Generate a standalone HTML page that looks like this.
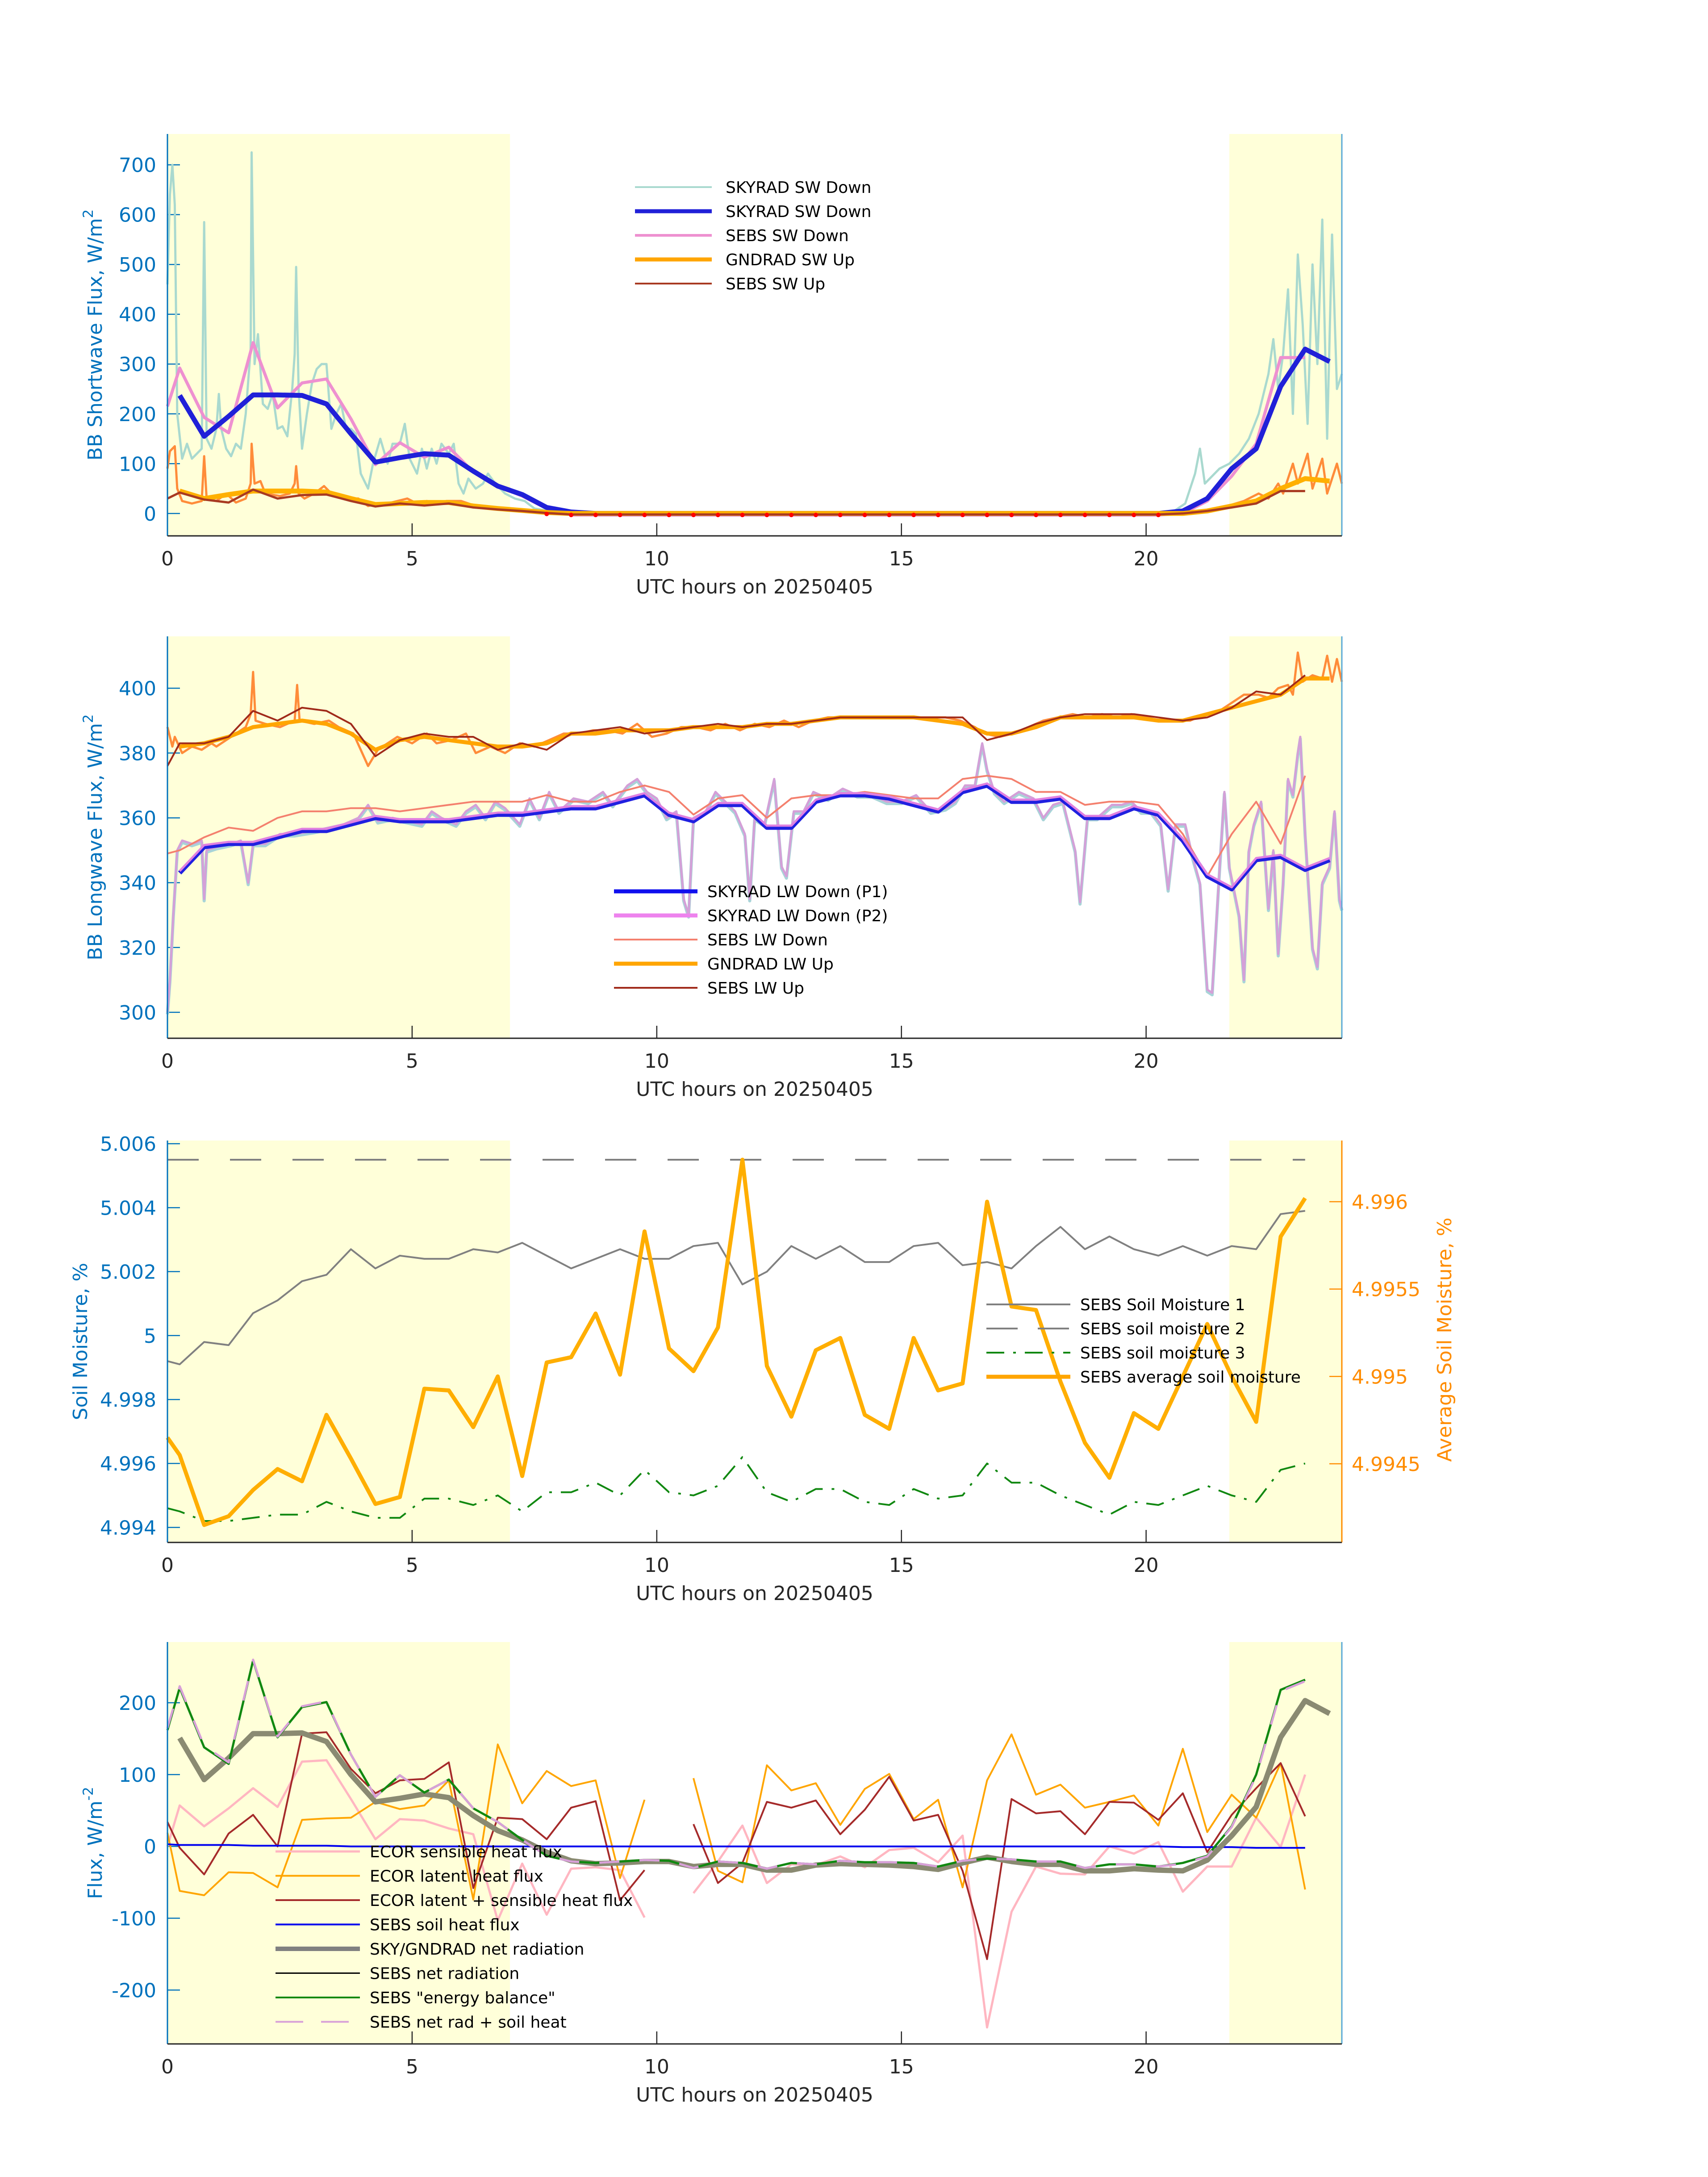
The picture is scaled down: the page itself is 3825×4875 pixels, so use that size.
<!DOCTYPE html>
<html>
<head>
<meta charset="utf-8">
<style>
  html, body { margin: 0; padding: 0; background: #ffffff; }
  svg { display: block; }
  text { font-family: "DejaVu Sans", "Liberation Sans", sans-serif; }
</style>
</head>
<body>
<svg id="fig" xmlns="http://www.w3.org/2000/svg" width="3825" height="4875" viewBox="0 0 3825 4875"></svg>
<script>
// ---------- shared time axes ----------
const tA = [0,0.25,0.75,1.25,1.75,2.25,2.75,3.25,3.75,4.25,4.75,5.25,5.75,6.25,6.75,7.25,7.75,8.25,8.75,9.25,9.75,10.25,10.75,11.25,11.75,12.25,12.75,13.25,13.75,14.25,14.75,15.25,15.75,16.25,16.75,17.25,17.75,18.25,18.75,19.25,19.75,20.25,20.75,21.25,21.75,22.25,22.75,23.25];
const tB = [0.25,0.75,1.25,1.75,2.25,2.75,3.25,3.75,4.25,4.75,5.25,5.75,6.25,6.75,7.25,7.75,8.25,8.75,9.25,9.75,10.25,10.75,11.25,11.75,12.25,12.75,13.25,13.75,14.25,14.75,15.25,15.75,16.25,16.75,17.25,17.75,18.25,18.75,19.25,19.75,20.25,20.75,21.25,21.75,22.25,22.75,23.25,23.75];
const xTicks = [0,5,10,15,20];
const xTickLabels = ["0","5","10","15","20"];
const shadeSpans = [[0,7],[21.7,24]];

// ---------- panel 1: shortwave ----------
const swNoisyT = [0,0.05,0.1,0.15,0.2,0.3,0.4,0.5,0.6,0.7,0.75,0.8,0.9,1.0,1.05,1.1,1.2,1.3,1.4,1.5,1.6,1.7,1.72,1.78,1.85,1.95,2.05,2.15,2.25,2.35,2.45,2.55,2.6,2.63,2.68,2.75,2.85,2.95,3.05,3.15,3.25,3.35,3.45,3.55,3.65,3.75,3.85,3.95,4.1,4.2,4.35,4.5,4.6,4.75,4.85,4.95,5.1,5.2,5.3,5.4,5.5,5.6,5.75,5.85,5.95,6.05,6.15,6.3,6.45,6.55,6.7,6.9,7.1,7.3,7.5,7.8,8.2,20.5,20.8,21.0,21.1,21.2,21.5,21.7,21.9,22.1,22.3,22.5,22.6,22.7,22.8,22.9,23.0,23.1,23.2,23.3,23.4,23.5,23.6,23.7,23.8,23.9,24];
const swNoisyV = [460,640,700,620,200,110,140,110,120,130,585,150,130,170,240,170,130,115,140,130,200,330,725,300,360,220,210,240,170,175,155,250,320,495,250,130,200,260,290,300,300,170,200,220,170,170,160,80,50,100,150,100,140,140,180,110,80,130,90,130,100,140,120,140,60,40,70,50,60,80,60,40,30,25,10,5,0,0,20,80,130,60,90,100,120,150,200,280,350,250,320,450,200,520,380,180,500,300,590,150,560,250,280];
const swUpNoisyT = [0,0.05,0.15,0.2,0.3,0.5,0.7,0.75,0.8,1.0,1.2,1.4,1.6,1.7,1.72,1.78,1.9,2.0,2.3,2.5,2.6,2.63,2.68,2.8,3.0,3.2,3.4,3.7,3.9,4.1,4.3,4.5,4.7,4.9,5.1,5.3,5.5,5.7,6.0,6.3,6.6,7.0,7.5,8.0,20.5,21.0,21.5,22.0,22.3,22.5,22.7,22.8,23.0,23.1,23.3,23.4,23.6,23.7,23.9,24];
const swUpNoisyV = [90,125,135,50,25,20,25,115,30,25,40,22,30,60,140,60,65,40,35,40,60,95,40,30,40,55,35,30,30,15,20,20,25,30,20,25,20,25,25,15,10,10,5,0,0,5,10,25,40,30,60,40,100,60,120,50,110,40,100,60];
const skySwDown = [237,155,195,238,238,237,220,160,103,112,120,117,85,55,38,12,3,0,0,0,0,0,0,0,0,0,0,0,0,0,0,0,0,0,0,0,0,0,0,0,0,5,30,90,130,255,330,305];
const sebsSwDown = [215,292,193,162,343,212,262,270,190,98,142,113,133,83,55,35,10,-3,-3,-3,-3,-3,-3,-3,-3,-3,-3,-3,-3,-3,-3,-3,-3,-3,-3,-3,-3,-3,-3,-3,-3,-3,0,25,75,140,313,313];
const gndSwUp = [45,30,38,45,45,45,43,30,18,20,22,22,15,10,6,2,0,0,0,0,0,0,0,0,0,0,0,0,0,0,0,0,0,0,0,0,0,0,0,0,0,0,5,15,25,50,70,65];
const sebsSwUp = [30,42,28,22,48,30,37,38,25,14,20,16,20,12,8,5,1,-2,-2,-2,-2,-2,-2,-2,-2,-2,-2,-2,-2,-2,-2,-2,-2,-2,-2,-2,-2,-2,-2,-2,-2,-2,0,5,12,20,45,45];
const swDotT = [7.75,8.25,8.75,9.25,9.75,10.25,10.75,11.25,11.75,12.25,12.75,13.25,13.75,14.25,14.75,15.25,15.75,16.25,16.75,17.25,17.75,18.25,18.75,19.25,19.75,20.25];
const swDotV = [-1,-3,-3,-3,-3,-3,-3,-3,-3,-3,-3,-3,-3,-3,-3,-3,-3,-3,-3,-3,-3,-3,-3,-3,-3,-3];
const swYTicks = [0,100,200,300,400,500,600,700];
const swYTickLabels = ["0","100","200","300","400","500","600","700"];

// ---------- panel 2: longwave ----------
const lwNoisyT = [0,0.05,0.12,0.2,0.3,0.5,0.7,0.75,0.8,1.0,1.3,1.5,1.65,1.75,2.0,2.3,2.6,3.0,3.3,3.6,3.9,4.1,4.3,4.6,4.9,5.2,5.4,5.6,5.9,6.1,6.3,6.5,6.7,6.9,7.2,7.4,7.6,7.8,8.0,8.3,8.6,8.9,9.1,9.4,9.6,9.8,10.0,10.2,10.4,10.55,10.65,10.75,11.0,11.2,11.4,11.6,11.8,11.9,12.0,12.2,12.4,12.55,12.65,12.8,13.0,13.2,13.5,13.8,14.1,14.4,14.7,15.0,15.3,15.6,15.9,16.1,16.3,16.5,16.65,16.75,16.9,17.1,17.4,17.7,17.9,18.1,18.3,18.55,18.65,18.8,19.0,19.3,19.5,19.7,19.9,20.1,20.3,20.45,20.6,20.8,20.95,21.1,21.25,21.35,21.5,21.6,21.7,21.9,22.0,22.1,22.2,22.35,22.5,22.6,22.7,22.8,22.9,23.0,23.1,23.15,23.25,23.4,23.5,23.6,23.75,23.85,23.95,24];
const lwNoisyV = [300,310,330,350,353,352,353,335,350,351,352,353,340,352,352,355,355,356,357,358,360,364,359,360,359,358,362,360,358,362,364,360,365,363,358,366,360,368,362,366,365,368,364,370,372,368,366,360,362,335,330,360,362,368,365,362,355,335,360,358,372,345,342,362,362,368,366,369,367,367,365,365,367,362,363,365,370,370,383,375,368,365,368,366,360,364,365,350,334,360,360,364,364,365,362,362,358,338,358,358,348,340,307,306,344,368,345,330,310,350,358,365,332,350,318,340,372,367,380,385,355,320,314,340,345,362,335,332];
const lwUpNoisyT = [0,0.1,0.15,0.3,0.5,0.7,0.9,1.0,1.2,1.4,1.6,1.7,1.75,1.8,2.0,2.3,2.6,2.65,2.7,3.0,3.3,3.5,3.8,4.1,4.3,4.5,4.7,5.0,5.3,5.5,5.8,6.1,6.3,6.6,6.9,7.2,7.5,7.8,8.1,8.4,8.7,9.0,9.3,9.6,9.9,10.2,10.5,10.8,11.1,11.4,11.7,12.0,12.3,12.6,12.9,13.2,13.5,13.8,14.1,14.4,14.7,15.0,15.3,15.6,15.9,16.2,16.5,16.7,17.0,17.3,17.6,17.9,18.2,18.5,18.8,19.1,19.4,19.7,20.0,20.3,20.6,20.9,21.2,21.5,21.8,22.0,22.3,22.5,22.7,22.9,23.0,23.1,23.2,23.4,23.6,23.7,23.8,23.9,24];
const lwUpNoisyV = [388,382,385,380,382,381,383,382,384,386,388,392,405,390,389,388,390,401,390,389,390,388,386,376,381,383,385,383,386,383,384,386,380,382,380,383,382,384,386,386,387,387,386,389,385,386,388,388,387,389,387,389,388,390,388,390,391,391,391,391,391,391,391,391,391,390,388,386,385,386,388,390,391,392,391,392,391,392,391,390,390,390,392,393,396,398,398,397,400,401,398,411,402,404,403,410,402,409,402];
const skyLwDownP1 = [343,351,352,352,354,356,356,358,360,359,359,359,360,361,361,362,363,363,365,367,361,359,364,364,357,357,365,367,367,366,364,362,368,370,365,365,366,360,360,363,361,353,342,338,347,348,344,347];
const sebsLwDown = [349,350,354,357,356,360,362,362,363,363,362,363,364,365,365,365,367,365,365,368,370,368,361,366,367,360,366,367,367,368,367,366,366,372,373,372,368,368,364,365,365,364,355,342,355,365,352,373];
const gndLwUp = [382,383,385,388,389,390,389,386,381,384,385,384,383,382,382,383,386,386,387,387,387,388,388,388,389,389,390,391,391,391,391,390,389,386,386,388,391,391,391,391,390,390,392,394,396,398,403,403];
const sebsLwUp = [376,383,383,385,393,390,394,393,389,379,384,386,385,385,381,383,381,386,387,388,386,387,388,389,388,389,389,390,391,391,391,391,391,391,384,386,389,391,392,392,392,391,390,391,394,399,398,404];
const lwYTicks = [300,320,340,360,380,400];
const lwYTickLabels = ["300","320","340","360","380","400"];

// ---------- panel 3: soil moisture ----------
const soilM1 = [4.9992,4.9991,4.9998,4.9997,5.0007,5.0011,5.0017,5.0019,5.0027,5.0021,5.0025,5.0024,5.0024,5.0027,5.0026,5.0029,5.0025,5.0021,5.0024,5.0027,5.0024,5.0024,5.0028,5.0029,5.0016,5.0020,5.0028,5.0024,5.0028,5.0023,5.0023,5.0028,5.0029,5.0022,5.0023,5.0021,5.0028,5.0034,5.0027,5.0031,5.0027,5.0025,5.0028,5.0025,5.0028,5.0027,5.0038,5.0039];
const soilM2 = [5.0055,5.0055,5.0055,5.0055,5.0055,5.0055,5.0055,5.0055,5.0055,5.0055,5.0055,5.0055,5.0055,5.0055,5.0055,5.0055,5.0055,5.0055,5.0055,5.0055,5.0055,5.0055,5.0055,5.0055,5.0055,5.0055,5.0055,5.0055,5.0055,5.0055,5.0055,5.0055,5.0055,5.0055,5.0055,5.0055,5.0055,5.0055,5.0055,5.0055,5.0055,5.0055,5.0055,5.0055,5.0055,5.0055,5.0055,5.0055];
const soilM3 = [4.9946,4.9945,4.9942,4.9942,4.9943,4.9944,4.9944,4.9948,4.9945,4.9943,4.9943,4.9949,4.9949,4.9947,4.9950,4.9945,4.9951,4.9951,4.9954,4.9950,4.9958,4.9951,4.9950,4.9953,4.9962,4.9951,4.9948,4.9952,4.9952,4.9948,4.9947,4.9952,4.9949,4.9950,4.9960,4.9954,4.9954,4.9950,4.9947,4.9944,4.9948,4.9947,4.9950,4.9953,4.9950,4.9948,4.9958,4.9960];
const soilAvg = [4.99465,4.99455,4.99415,4.99420,4.99435,4.99447,4.99440,4.99478,4.99453,4.99427,4.99431,4.99493,4.99492,4.99471,4.99500,4.99443,4.99508,4.99511,4.99536,4.99501,4.99583,4.99516,4.99503,4.99528,4.99624,4.99506,4.99477,4.99515,4.99522,4.99478,4.99470,4.99522,4.99492,4.99496,4.99600,4.99540,4.99538,4.99497,4.99462,4.99442,4.99479,4.99470,4.99500,4.99530,4.99500,4.99474,4.99580,4.99602];
const smYTicks = [4.994,4.996,4.998,5.0,5.002,5.004,5.006];
const smYTickLabels = ["4.994","4.996","4.998","5","5.002","5.004","5.006"];
const smRTicks = [4.9945,4.995,4.9955,4.996];
const smRTickLabels = ["4.9945","4.995","4.9955","4.996"];

// ---------- panel 4: surface energy fluxes ----------
const ecorSensible = [0,57,28,53,81,55,118,120,66,10,38,36,25,17,-103,-24,-95,-31,-29,-33,-99,null,-65,-21,29,-51,-25,-26,-14,-29,-5,-2,-22,15,-252,-91,-28,-38,-39,0,-10,6,-63,-28,-28,40,-1,100];
const ecorLatent = [19,-62,-68,-36,-37,-57,37,39,40,62,52,57,92,-74,142,60,105,84,92,-44,65,null,95,-34,-50,113,78,88,30,80,101,38,65,-57,92,156,72,86,54,62,71,29,136,20,72,40,116,-60];
const ecorTotal = [34,-2,-39,18,44,0,157,159,108,74,92,94,117,-58,40,38,10,54,63,-75,-33,null,31,-51,-23,62,54,64,17,51,97,36,44,-34,-157,66,46,49,17,62,61,37,74,-8,44,81,116,42];
const sebsSoilHeat = [3,2,2,2,1,1,1,1,0,0,0,0,0,0,0,0,0,0,0,0,0,0,0,0,0,0,0,0,0,0,0,0,0,0,0,0,0,0,0,0,0,0,-1,-1,-1,-2,-2,-2];
const skyGndNet = [151,93,123,157,157,158,146,100,62,67,73,68,43,22,9,-8,-20,-24,-23,-21,-21,-28,-25,-25,-33,-33,-26,-24,-25,-26,-28,-32,-23,-15,-21,-25,-25,-34,-34,-31,-33,-34,-19,15,55,152,203,185];
const sebsNetRad = [162,221,138,115,259,152,194,201,128,69,99,75,93,53,34,9,-13,-21,-23,-21,-19,-20,-30,-21,-23,-31,-23,-25,-20,-22,-22,-23,-28,-20,-17,-18,-21,-21,-30,-25,-25,-28,-23,-13,28,100,218,232];
const sebsEnergyBal = [162,221,138,115,259,152,194,201,128,69,99,75,93,53,34,9,-13,-21,-23,-21,-19,-20,-30,-21,-23,-31,-23,-25,-20,-22,-22,-23,-28,-20,-17,-18,-21,-21,-30,-25,-25,-28,-23,-13,28,100,218,232];
const fluxYTicks = [-200,-100,0,100,200];
const fluxYTickLabels = ["-200","-100","0","100","200"];

// ---------- drawing ----------
const NS = "http://www.w3.org/2000/svg";
const svg = document.getElementById("fig");
const AX_L = 375, AX_R = 3005;
const BLUE_AX = "#0072BD";

function mk(tag, attrs, parent) {
  const el = document.createElementNS(NS, tag);
  for (const k in attrs) el.setAttribute(k, attrs[k]);
  (parent || svg).appendChild(el);
  return el;
}
function makeAxis(top, bottom, ymin, ymax) {
  return {
    top: top, bottom: bottom,
    x: function (t) { return AX_L + (t - 0) / 24 * (AX_R - AX_L); },
    y: function (v) { return bottom - (v - ymin) / (ymax - ymin) * (bottom - top); }
  };
}
function drawLine(ax, ts, vs, color, width, dash, name) {
  let segs = [], cur = [];
  for (let i = 0; i < ts.length && i < vs.length; i++) {
    if (vs[i] === null || vs[i] === undefined) { if (cur.length) segs.push(cur); cur = []; continue; }
    cur.push(ax.x(ts[i]).toFixed(1) + "," + ax.y(vs[i]).toFixed(1));
  }
  if (cur.length) segs.push(cur);
  const g = mk("g", {});
  
  
  segs.forEach(function (s) {
    const p = mk("polyline", { points: s.join(" "), fill: "none", stroke: color, "stroke-width": width, "stroke-linejoin": "round", "stroke-linecap": "butt" }, g);
    if (dash) p.setAttribute("stroke-dasharray", dash);
    
    
  });
  return g;
}
function drawFrame(ax, yTicks, yLabels, yTitleParts, prefix, titleX) {
  shadeSpans.forEach(function (s, i) {
    const r = mk("rect", { x: ax.x(s[0]), y: ax.top, width: ax.x(s[1]) - ax.x(s[0]), height: ax.bottom - ax.top, fill: "#ffffd9" });
    
    
  });
  yTicks.forEach(function (v, i) {
    const yy = ax.y(v);
    const tk = mk("line", { x1: AX_L, x2: AX_L + 28, y1: yy, y2: yy, stroke: BLUE_AX, "stroke-width": 2.5 });
    
    
    const tl = mk("text", { x: 350, y: yy + 16, "text-anchor": "end", "font-size": 44, fill: BLUE_AX });
    tl.textContent = yLabels[i];
    
    
  });
  xTicks.forEach(function (t, i) {
    const xx = ax.x(t);
    const tk = mk("line", { x1: xx, x2: xx, y1: ax.bottom, y2: ax.bottom - 28, stroke: "#262626", "stroke-width": 2.5 });
    
    
    const tl = mk("text", { x: xx, y: ax.bottom + 66, "text-anchor": "middle", "font-size": 44, fill: "#262626" });
    tl.textContent = xTickLabels[i];
    
    
  });
  const xl = mk("text", { x: (AX_L + AX_R) / 2, y: ax.bottom + 129, "text-anchor": "middle", "font-size": 44, fill: "#262626" });
  xl.textContent = "UTC hours on 20250405";
  
  
  const cy = (ax.top + ax.bottom) / 2;
  const yl = mk("text", { x: 0, y: 0, "text-anchor": "middle", "font-size": 44, fill: BLUE_AX, transform: "translate(" + titleX + "," + cy + ") rotate(-90)" });
  yl.textContent = yTitleParts[0];
  if (yTitleParts[1]) {
    const sup = mk("tspan", { dy: -20, "font-size": 31 }, yl);
    sup.textContent = yTitleParts[1];
  }
  
  
}
function drawAxesLines(ax, prefix, rightColor) {
  const l = mk("line", { x1: AX_L, x2: AX_L, y1: ax.top, y2: ax.bottom, stroke: BLUE_AX, "stroke-width": 3 });
  
  
  const r = mk("line", { x1: AX_R, x2: AX_R, y1: ax.top, y2: ax.bottom, stroke: rightColor, "stroke-width": 3 });
  
  
  const b = mk("line", { x1: AX_L, x2: AX_R, y1: ax.bottom, y2: ax.bottom, stroke: "#262626", "stroke-width": 3 });
  
  
}
function legendEntry(x1, x2, tx, y, color, width, dash, label, name) {
  const g = mk("g", {});
  
  
  const ln = mk("line", { x1: x1, x2: x2, y1: y, y2: y, stroke: color, "stroke-width": width }, g);
  if (dash) ln.setAttribute("stroke-dasharray", dash);
  const t = mk("text", { x: tx, y: y + 13, "font-size": 36, fill: "#000" }, g);
  t.textContent = label;
}

// ===== Panel 1 =====
const ax1 = makeAxis(300, 1200, -45, 762);
drawFrame(ax1, swYTicks, swYTickLabels, ["BB Shortwave Flux, W/m", "2"], "sw", 228);
drawLine(ax1, swNoisyT, swNoisyV, "#a9d9cf", 5, null, "skyrad-sw-down-1min");
drawLine(ax1, swUpNoisyT, swUpNoisyV, "#ff8c3a", 5, null, "gndrad-sw-up-1min");
drawLine(ax1, tA, sebsSwDown, "#ee90d0", 7, null, "sebs-sw-down");
drawLine(ax1, tB, skySwDown, "#2020d8", 11, null, "skyrad-sw-down");
drawLine(ax1, tB, gndSwUp, "#ffb000", 11, null, "gndrad-sw-up");
drawLine(ax1, tA, sebsSwUp, "#a83a22", 5, null, "sebs-sw-up");
swDotT.forEach(function (t, i) {
  const c = mk("circle", { cx: ax1.x(t), cy: ax1.y(swDotV[i]), r: 5, fill: "#ff0000" });
  
  
});
drawAxesLines(ax1, "sw", "#5aaad8");
legendEntry(1422, 1594, 1625, 419, "#a9d9cf", 4, null, "SKYRAD SW Down", "legend-skyrad-sw-down-1min");
legendEntry(1422, 1594, 1625, 473, "#2020d8", 9, null, "SKYRAD SW Down", "legend-skyrad-sw-down");
legendEntry(1422, 1594, 1625, 527, "#ee90d0", 6, null, "SEBS SW Down", "legend-sebs-sw-down");
legendEntry(1422, 1594, 1625, 581, "#ffa500", 9, null, "GNDRAD SW Up", "legend-gndrad-sw-up");
legendEntry(1422, 1594, 1625, 635, "#a83a22", 4, null, "SEBS SW Up", "legend-sebs-sw-up");

// ===== Panel 2 =====
const ax2 = makeAxis(1425, 2325, 292, 416);
drawFrame(ax2, lwYTicks, lwYTickLabels, ["BB Longwave Flux, W/m", "2"], "lw", 228);
drawLine(ax2, lwNoisyT, lwNoisyV.map(function (v) { return v - 0.6; }), "#a8d4d8", 7, null, "skyrad-lw-down-1min-p1");
drawLine(ax2, lwNoisyT, lwNoisyV, "#d4a0d8", 5, null, "skyrad-lw-down-1min-p2");
drawLine(ax2, lwUpNoisyT, lwUpNoisyV, "#ff8c3a", 5, null, "gndrad-lw-up-1min");
drawLine(ax2, tA, sebsLwDown, "#f4806e", 4, null, "sebs-lw-down");
drawLine(ax2, tB, gndLwUp, "#ffa500", 9, null, "gndrad-lw-up");
drawLine(ax2, tA, sebsLwUp, "#a02a1a", 4, null, "sebs-lw-up");
drawLine(ax2, tB, skyLwDownP1, "#2020e0", 10, null, "skyrad-lw-down-p1");
drawLine(ax2, tB, skyLwDownP1.map(function (v) { return v + 0.6; }), "#e080e0", 5, null, "skyrad-lw-down-p2");
drawAxesLines(ax2, "lw", "#5aaad8");
legendEntry(1375, 1562, 1584, 1996, "#1010ee", 9, null, "SKYRAD LW Down (P1)", "legend-skyrad-lw-down-p1");
legendEntry(1375, 1562, 1584, 2050, "#ee82ee", 9, null, "SKYRAD LW Down (P2)", "legend-skyrad-lw-down-p2");
legendEntry(1375, 1562, 1584, 2104, "#f4806e", 4, null, "SEBS LW Down", "legend-sebs-lw-down");
legendEntry(1375, 1562, 1584, 2158, "#ffa500", 9, null, "GNDRAD LW Up", "legend-gndrad-lw-up");
legendEntry(1375, 1562, 1584, 2212, "#a02a1a", 4, null, "SEBS LW Up", "legend-sebs-lw-up");

// ===== Panel 3 =====
const ax3 = makeAxis(2554, 3454, 4.99353, 5.0061);
const ax3r = makeAxis(2554, 3454, 4.99405, 4.99635);
drawFrame(ax3, smYTicks, smYTickLabels, ["Soil Moisture, %", ""], "sm", 195);
drawLine(ax3, tA, soilM1, "#808080", 4, null, "sebs-soil-moisture-1");
drawLine(ax3, tA, soilM2, "#808080", 4, "70,70", "sebs-soil-moisture-2");
drawLine(ax3, tA, soilM3, "#118811", 4, "40,20,6,20", "sebs-soil-moisture-3");
drawLine(ax3r, tA, soilAvg, "#ffae00", 9, null, "sebs-average-soil-moisture");
drawAxesLines(ax3, "sm", "#ff8c00");
smRTicks.forEach(function (v, i) {
  const yy = ax3r.y(v);
  const tk = mk("line", { x1: AX_R - 28, x2: AX_R, y1: yy, y2: yy, stroke: "#ff8c00", "stroke-width": 2.5 });
  
  
  const tl = mk("text", { x: 3027, y: yy + 16, "font-size": 44, fill: "#ff8c00" });
  tl.textContent = smRTickLabels[i];
  
  
});
const rl = mk("text", { x: 0, y: 0, "text-anchor": "middle", "font-size": 44, fill: "#ff8c00", transform: "translate(3250,3000) rotate(-90)" });
rl.textContent = "Average Soil Moisture, %";


legendEntry(2209, 2397, 2419, 2921, "#808080", 4, null, "SEBS Soil Moisture 1", "legend-soil-moisture-1");
legendEntry(2209, 2397, 2419, 2975, "#808080", 4, "70,45", "SEBS soil moisture 2", "legend-soil-moisture-2");
legendEntry(2209, 2397, 2419, 3029, "#118811", 4, "40,20,6,20", "SEBS soil moisture 3", "legend-soil-moisture-3");
legendEntry(2209, 2397, 2419, 3083, "#ffa500", 9, null, "SEBS average soil moisture", "legend-average-soil-moisture");

// ===== Panel 4 =====
const ax4 = makeAxis(3677, 4577, -275, 284.6);
drawFrame(ax4, fluxYTicks, fluxYTickLabels, ["Flux, W/m", "-2"], "flux", 228);
drawLine(ax4, tA, ecorSensible, "#ffb6c1", 5, null, "ecor-sensible-heat-flux");
drawLine(ax4, tA, ecorLatent, "#ffa500", 4, null, "ecor-latent-heat-flux");
drawLine(ax4, tA, ecorTotal, "#a52a2a", 4, null, "ecor-latent-plus-sensible-heat-flux");
drawLine(ax4, tA, sebsSoilHeat, "#0000ee", 4, null, "sebs-soil-heat-flux");
drawLine(ax4, tB, skyGndNet, "#8a8a72", 12, null, "sky-gndrad-net-radiation");
drawLine(ax4, tA, sebsNetRad, "#000000", 3, null, "sebs-net-radiation");
drawLine(ax4, tA, sebsEnergyBal, "#118811", 5, null, "sebs-energy-balance");
drawLine(ax4, tA, sebsNetRad.map(function (v, i) { return v + sebsSoilHeat[i]; }), "#d8a0d8", 5, "45,45", "sebs-net-rad-plus-soil-heat");
drawAxesLines(ax4, "flux", "#5aaad8");
const fl = [
  ["#ffb6c1", 5, null, "ECOR sensible heat flux", "legend-ecor-sensible"],
  ["#ffa500", 4, null, "ECOR latent heat flux", "legend-ecor-latent"],
  ["#a52a2a", 4, null, "ECOR latent + sensible heat flux", "legend-ecor-total"],
  ["#0000ee", 4, null, "SEBS soil heat flux", "legend-sebs-soil-heat"],
  ["#808080", 10, null, "SKY/GNDRAD net radiation", "legend-sky-gndrad-net"],
  ["#000000", 3, null, "SEBS net radiation", "legend-sebs-net-radiation"],
  ["#118811", 4, null, "SEBS \"energy balance\"", "legend-sebs-energy-balance"],
  ["#d8a0d8", 4, "62,40", "SEBS net rad + soil heat", "legend-sebs-net-rad-soil-heat"]
];
fl.forEach(function (e, i) {
  legendEntry(617, 806, 828, 4146 + i * 54.5, e[0], e[1], e[2], e[3], e[4]);
});
</script>
</body>
</html>
